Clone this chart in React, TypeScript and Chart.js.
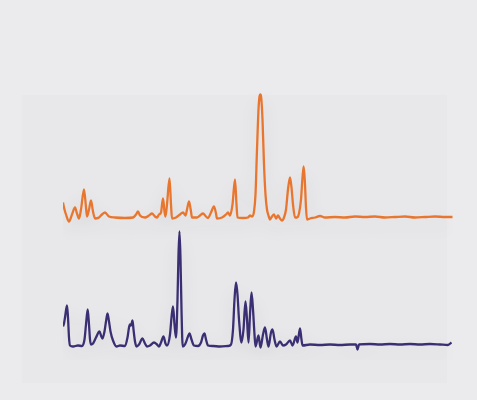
import React, { useEffect, useRef } from "react";
import { Chart, registerables } from "chart.js";

Chart.register(...registerables);

// 2θ (degrees) and intensity (arb. units) for the upper (orange) pattern
const orangeTwoTheta = [
  5.0, 5.2, 5.6, 6.2, 6.8, 7.4, 7.8, 8.2, 8.6, 9.2, 9.6, 9.8, 10.2, 10.6, 11.0, 11.4,
  12.2, 12.8, 13.4, 14.2, 15.4, 17.4, 19.0, 19.6, 20.0, 20.4, 21.4, 22.2, 22.8, 23.4,
  23.8, 24.2, 24.6, 25.0, 25.3, 25.5, 25.8, 26.3, 26.6, 26.8, 27.6, 28.4, 29.0, 29.5,
  29.8, 30.2, 30.6, 30.8, 31.8, 32.4, 33.0, 33.6, 34.0, 34.6, 35.2, 35.6, 35.8, 36.8,
  37.6, 38.0, 38.4, 38.9, 39.4, 39.7, 39.9, 41.0, 42.0, 42.4, 42.8, 43.2, 43.5, 43.8,
  44.1, 44.3, 44.46, 44.64, 44.9, 45.2, 45.5, 45.8, 46.1, 46.4, 46.8, 47.2, 47.6, 48.0,
  48.4, 48.8, 49.2, 49.6, 50.0, 50.4, 50.7, 51.0, 51.4, 51.8, 52.2, 52.6, 52.9, 53.14,
  53.4, 53.6, 53.8, 54.4, 55.4, 56.4, 57.4, 59.4, 61.4, 63.4, 65.4, 67.4, 69.4, 71.4,
  73.4, 75.4, 77.4, 79.4, 81.4, 82.9,
];
const orangeIntensity = [
  14.5, 9.5, 2.5, -4.5, 2.5, 9.5, 3.5, -1.5, 7.5, 27.5, 9.5, 0.5, 7.5, 16.5, 5.5, -1.5,
  -0.5, 2.5, 4.5, 0.5, -0.5, -1, -0.5, 2.5, 5.5, 1.5, -0.5, 1.5, 3.5, 0.5,
  -0.5, 2.5, 4.5, 18.5, 5.5, 0.5, 12.5, 38.5, 12.5, -1.5, -0.5, 2.5, 4.5, 1.5,
  7.5, 15.5, 5.5, -0.5, -0.5, 1.5, 3.5, 0.5, -1, 4.5, 10.5, 3.5, -1.5, -0.5,
  2.5, 4.5, 1.5, 12.5, 37.5, 12.5, -0.5, -1, -0.5, 1.5, 0.5, 5.5, 22.5, 67.5,
  107.5, 120.5, 122.5, 119.5, 97.5, 52.5, 22.5, 7.5, 1.5, -2.5, 0.5, 2.5, -1.5, 1.5,
  -1.5, -3.5, -0.5, 7.5, 27.5, 39.5, 29.5, 12.5, -0.5, -0.5, 3.5, 17.5, 39.5, 50.5,
  32.5, 9.5, -2.5, -1.5, -0.5, 1, -0.5, 0, -0.5, 0.5, 0, 0.5, -0.5, 0,
  0.5, -0.5, 0, 0.5, 0, 0,
];

// 2θ (degrees) and intensity (arb. units) for the lower (purple) pattern
const purpleTwoTheta = [
  5.0, 5.2, 5.4, 5.8, 6.0, 6.2, 6.4, 7.0, 8.0, 8.8, 9.3, 9.6, 9.94, 10.2, 10.4, 10.6,
  11.0, 11.6, 12.3, 12.6, 12.9, 13.3, 13.6, 13.9, 14.2, 14.5, 15.0, 15.7, 16.4, 17.4,
  17.9, 18.2, 18.4, 18.6, 18.9, 19.1, 19.4, 19.7, 20.2, 20.9, 21.4, 21.8, 22.4, 23.2,
  23.8, 24.2, 24.6, 25.1, 25.5, 25.8, 26.4, 26.7, 27.0, 27.3, 27.6, 27.9, 28.1, 28.3,
  28.5, 28.7, 28.94, 29.4, 30.0, 30.3, 30.7, 31.2, 32.0, 32.6, 33.0, 33.3, 33.6, 34.0,
  35.0, 36.4, 38.0, 38.6, 39.0, 39.3, 39.6, 39.9, 40.2, 40.7, 41.1, 41.5, 41.8, 42.1,
  42.4, 42.7, 43.0, 43.3, 43.5, 44.1, 44.5, 45.0, 45.4, 45.8, 46.1, 46.6, 46.9, 47.3,
  47.7, 48.4, 49.0, 49.6, 50.4, 50.9, 51.6, 51.9, 52.4, 52.7, 52.9, 54.4, 56.4, 58.4,
  60.4, 62.4, 63.6, 63.9, 64.2, 66.4, 68.4, 70.4, 72.4, 74.4, 76.4, 78.4, 80.4, 82.0,
  82.7,
];
const purpleIntensity = [
  19.5, 22.5, 28.5, 40.5, 28.5, 8.5, 0.5, -0.5, 0.5, 0, 6.5, 21.5, 36.5, 21.5, 6.5, 1.5,
  2.5, 8.5, 14.5, 10.5, 7.5, 14.5, 24.5, 32.5, 24.5, 14.5, 5.5, -0.5, 0.5, 0,
  8.5, 18.5, 21.5, 20.5, 25.5, 16.5, 4.5, -0.5, 1.5, 7.5, 2.5, -0.5, 0.5, 3.5,
  1.5, -0.5, 3.5, 9.5, 2.5, 0.5, 11.5, 28.5, 39.5, 21.5, 8.5, 46.5, 91.5, 114.5,
  86.5, 36.5, -0.5, 1.5, 9.5, 12.5, 6.5, 0.5, 0, 3.5, 10.5, 12.5, 6.5, 0.5,
  0, -0.5, 0, 1.5, 16.5, 46.5, 63.5, 51.5, 26.5, 3.5, 16.5, 44.5, 26.5, 3.5,
  31.5, 53.5, 36.5, 11.5, -0.5, 10.5, -1.5, 11.5, 18.5, 6.5, -0.5, 13.5, 16.5, 6.5,
  -0.5, 4.5, 0.5, 1.5, 5.5, 0.5, 9.5, 3.5, 17.5, 6.5, 0.5, 1.5, 1, 1.5,
  1, 1.5, 1.5, -3.5, 1.5, 2, 1.5, 2, 1.5, 2, 1.5, 2, 1.5, 1,
  3.5,
];

const ORANGE_OFFSET = 129;

const lineShadow = {
  id: "lineShadow",
  beforeDatasetDraw(chart: any) {
    const ctx = chart.ctx;
    ctx.save();
    ctx.shadowColor = "rgba(60,60,70,0.10)";
    ctx.shadowBlur = 18;
    ctx.shadowOffsetY = 8;
  },
  afterDatasetDraw(chart: any) {
    chart.ctx.restore();
  },
};

export default function App() {
  const ref = useRef<HTMLCanvasElement | null>(null);

  useEffect(() => {
    document.body.style.margin = "0";
    document.body.style.background = "#ebebed";
    const canvas = ref.current;
    if (!canvas) return;
    const chart = new Chart(canvas, {
      type: "line",
      data: {
        datasets: [
          {
            label: "Upper pattern",
            data: orangeTwoTheta.map((x, i) => ({ x, y: orangeIntensity[i] + ORANGE_OFFSET })),
            borderColor: "#e8762f",
            borderWidth: 2.3,
            pointRadius: 0,
            cubicInterpolationMode: "monotone",
            fill: false,
          },
          {
            label: "Lower pattern",
            data: purpleTwoTheta.map((x, i) => ({ x, y: purpleIntensity[i] })),
            borderColor: "#3a2f72",
            borderWidth: 2.3,
            pointRadius: 0,
            cubicInterpolationMode: "monotone",
            fill: false,
          },
        ],
      },
      options: {
        animation: false,
        responsive: false,
        maintainAspectRatio: false,
        layout: { padding: { left: 63, right: 24, top: 90, bottom: 40 } },
        plugins: { legend: { display: false }, tooltip: { enabled: false } },
        scales: {
          x: { type: "linear", min: 5, max: 83, display: false },
          y: { min: -14, max: 256, display: false },
        },
      },
      plugins: [lineShadow],
    });
    return () => chart.destroy();
  }, []);

  return (
    <div style={{ position: "relative", width: 477, height: 400, background: "#ebebed", overflow: "hidden" }}>
      <div
        style={{
          position: "absolute",
          left: 22,
          top: 95,
          width: 425,
          height: 288,
          background: "#e8e8ea",
        }}
      />
      <canvas ref={ref} width={477} height={400} style={{ position: "absolute", left: 0, top: 0 }} />
    </div>
  );
}
